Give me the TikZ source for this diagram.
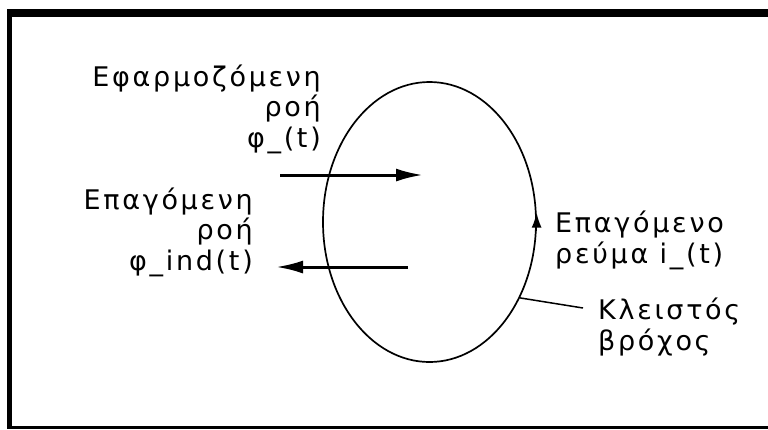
\documentclass[tikz,border=0pt]{standalone}
\usepackage{fontspec}
\setmainfont{DejaVu Sans}[LetterSpace=10]
\usetikzlibrary{arrows.meta,shapes.geometric}
\tikzset{
  >={Latex[length=15pt,width=10pt]},
  lbl/.style={font=\fontsize{27}{30.5}\selectfont,inner sep=0pt},
  rlbl/.style={lbl,align=right,anchor=base east},
  llbl/.style={lbl,align=left,anchor=base west},
  flux/.style={line width=3pt,-{Latex[length=27pt,width=13pt]}},
}

\begin{document}
\begin{tikzpicture}[x=1pt,y=-1pt]
\useasboundingbox (0,0) rectangle (768,429);
% frame
\fill (7,9) rectangle (768,17);
\fill (7,9) rectangle (12,429);
\fill (7,426) rectangle (768,428.5);
% closed loop
\node[draw,ellipse,line width=1.7pt,minimum width=213pt,minimum height=280pt,inner sep=0pt] (loop) at (429.5,222) {};
\draw[->,line width=1.7pt] (loop.-5) -- (loop.5);
% fluxes
\coordinate (ap1) at (280,175); \coordinate (ap2) at (423,175);
\coordinate (in1) at (408,267); \coordinate (in2) at (276,267);
\draw[flux] (ap1) -- (ap2);
\draw[flux] (in1) -- (in2);
% labels (base = last line)
\node[rlbl] (applied) at (321,147) {Εφαρμοζόμενη\\ροή\\φ\_(t)};
\node[rlbl] (induced) at (253,270) {Επαγόμενη\\ροή\\φ\_ind(t)};
\node[llbl] (current) at (555,263) {Επαγόμενο\\ρεύμα i\_(t)};
\node[llbl] (closed) at (598,350) {Κλειστός\\βρόχος};
\coordinate (kbend) at (583,308);
\draw[line width=1.5pt] (loop.-40) -- (kbend);
\end{tikzpicture}
\end{document}
